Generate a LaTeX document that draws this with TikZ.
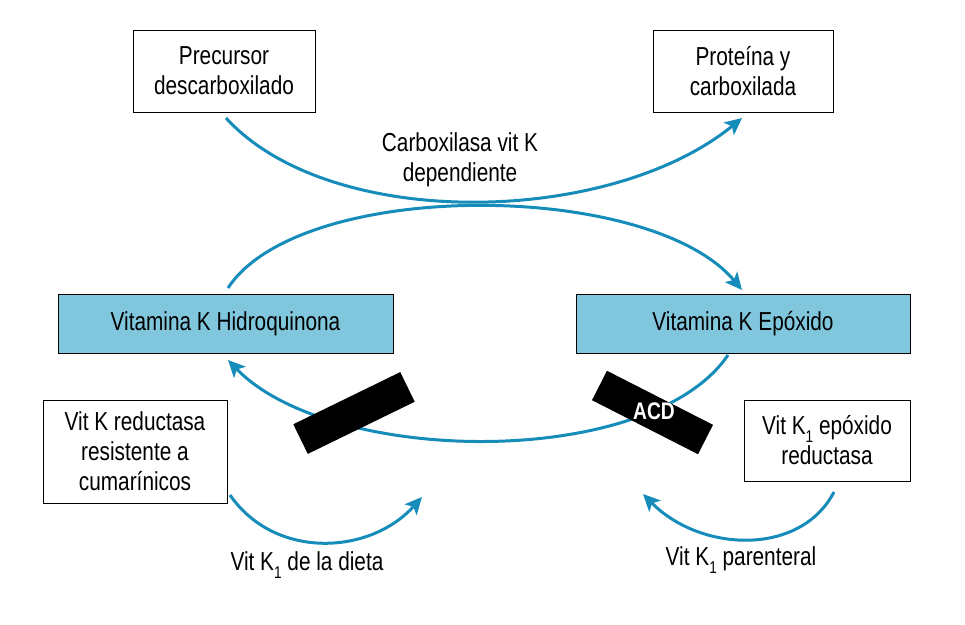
\documentclass[tikz,border=0pt]{standalone}
\usepackage{fontspec}
\setmainfont[FakeStretch=0.8]{Liberation Sans}
\usetikzlibrary{arrows.meta}
\definecolor{arrblue}{RGB}{22,140,186}
\definecolor{boxblue}{RGB}{128,199,222}
\newcommand\subone{\raisebox{-0.55ex}{\fontsize{17}{17}\selectfont 1}}
\begin{document}
\begin{tikzpicture}[x=1pt,y=-1pt,
  every node/.style={font=\fontsize{26}{30}\selectfont, align=center},
  wbox/.style={draw=black, line width=1pt, fill=white, inner sep=0pt},
  bbox/.style={draw=black, line width=1pt, fill=boxblue, inner sep=0pt},
  bar/.style={fill=black, minimum width=119pt, minimum height=33pt, inner sep=0pt},
  flow/.style={draw=arrblue, line width=3pt, -{Stealth[length=17pt,width=16pt,inset=4pt]}},
  lbl/.style={inner sep=0pt}]
\useasboundingbox (0,0) rectangle (965,624);
\node[wbox, minimum width=182pt, minimum height=82pt] (prec) at (224,71) {Precursor\\descarboxilado};
\node[wbox, minimum width=180pt, minimum height=82pt] (prot) at (743,71) {Proteína y\\carboxilada};
\node[bbox, minimum width=335pt, minimum height=59pt] (hidro) at (225.5,323.5) {Vitamina K Hidroquinona};
\node[bbox, minimum width=334pt, minimum height=59pt] (epox) at (743,323.5) {Vitamina K Epóxido};
\node[wbox, minimum width=184pt, minimum height=103pt] (red) at (135,451.5) {Vit K reductasa\\resistente a\\cumarínicos};
\node[wbox, minimum width=166pt, minimum height=81pt] (epred) at (827,440.5) {Vit K\subone{} epóxido\\reductasa};
\node[lbl] (carbox) at (460,160) {Carboxilasa vit K\\dependiente};
\node[lbl] (dieta) at (307,565) {Vit K\subone{} de la dieta};
\node[lbl] (paren) at (741,560) {Vit K\subone{} parenteral};
\coordinate (a1s) at (226,118);
\coordinate (a1e) at (742,118);
\coordinate (a2s) at (228,288);
\coordinate (a2e) at (742,290);
\coordinate (a3s) at (728,355);
\coordinate (a3e) at (228,360);
\coordinate (a4s) at (230,495);
\coordinate (a4e) at (422,497);
\coordinate (a5s) at (834,492);
\coordinate (a5e) at (643,494);
\draw[flow] (a1s) .. controls (330,232) and (610,226) .. (a1e);
\draw[flow] (a2s) .. controls (300,178) and (650,180) .. (a2e);
\draw[flow] (a3s) .. controls (650,470) and (330,466) .. (a3e);
\draw[flow] (a4s) .. controls (275,560) and (370,555) .. (a4e);
\draw[flow] (a5s) .. controls (800,557) and (700,552) .. (a5e);
\node[bar, rotate=26] (barl) at (354,413) {};
\node[bar, rotate=-27] (barr) at (652.5,412.5) {};
\node[font=\fontsize{24}{24}\selectfont\bfseries, text=white] (acd) at (654,411) {ACD};
\end{tikzpicture}
\end{document}
